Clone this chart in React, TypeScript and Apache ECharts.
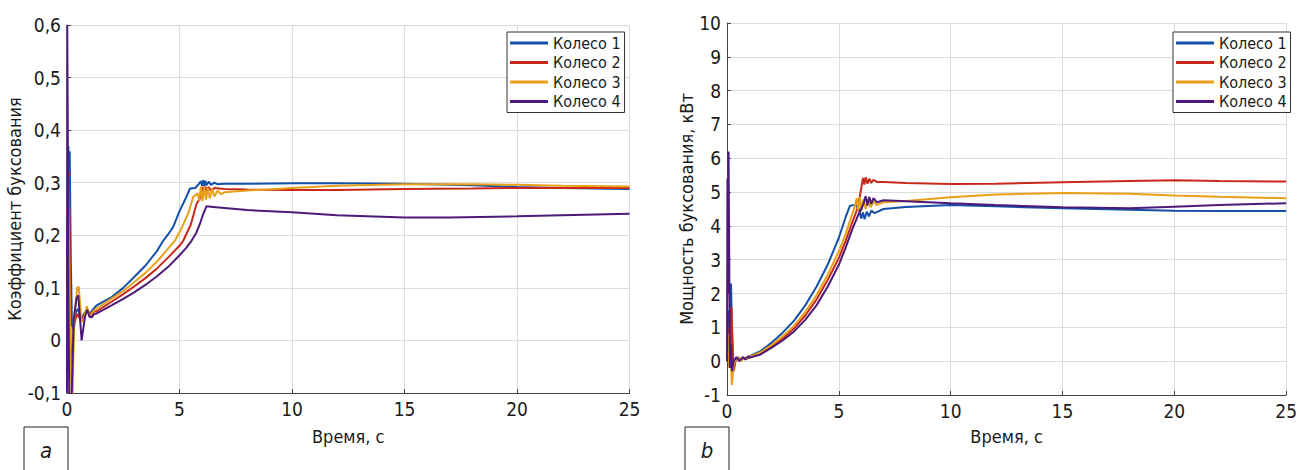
import React, { useEffect, useRef } from "react";
import * as echarts from "echarts";

const NAMES = ["Колесо 1", "Колесо 2", "Колесо 3", "Колесо 4"];
const COLORS = ["#1550a8", "#c8281c", "#e8a018", "#4c1a78"];

// Left chart: slip coefficient vs time [t, value]
const slip1: number[][] = [
  [0, -0.04], [0.02, -0.07], [0.04, 0.1], [0.06, 0.37], [0.09, 0.25], [0.12, 0.36], [0.17, 0.15], [0.22, 0.03],
  [0.3, 0.02], [0.4, 0.055], [0.5, 0.06], [0.62, 0.036], [0.75, 0.05], [0.88, 0.058], [1.0, 0.05], [1.12, 0.057],
  [1.3, 0.066], [2.0, 0.083], [2.5, 0.1], [3.0, 0.121], [3.5, 0.143], [4.0, 0.17], [4.28, 0.19], [4.5, 0.202],
  [4.72, 0.216], [5.0, 0.246], [5.25, 0.268], [5.47, 0.289], [5.7, 0.29], [5.85, 0.297], [5.95, 0.303],
  [6.0, 0.294], [6.05, 0.305], [6.1, 0.294], [6.15, 0.304], [6.2, 0.295], [6.3, 0.302], [6.4, 0.296],
  [6.55, 0.3], [6.7, 0.297], [7, 0.298], [8, 0.298], [10, 0.299], [12, 0.299], [15, 0.298], [18, 0.295],
  [20, 0.292], [22, 0.29], [25, 0.288],
];
const slip2: number[][] = [
  [0, 0.1], [0.04, 0.25], [0.08, 0.32], [0.12, 0.2], [0.16, -0.02], [0.2, -0.06], [0.3, 0.03], [0.45, 0.05],
  [0.6, 0.04], [0.75, 0.045], [0.9, 0.06], [1.05, 0.045], [1.2, 0.055], [1.3, 0.055], [2.0, 0.074],
  [2.5, 0.088], [3.0, 0.103], [3.5, 0.119], [4.0, 0.137], [4.5, 0.158], [5.0, 0.18], [5.17, 0.19],
  [5.5, 0.22], [5.76, 0.26], [5.91, 0.27], [6.0, 0.284], [6.05, 0.292], [6.1, 0.283], [6.15, 0.293],
  [6.2, 0.284], [6.3, 0.292], [6.4, 0.285], [6.55, 0.29], [7, 0.288], [8, 0.287], [10, 0.286], [12, 0.286],
  [15, 0.288], [18, 0.289], [20, 0.29], [25, 0.29],
];
const slip3: number[][] = [
  [0, 0.05], [0.04, 0.3], [0.09, 0.18], [0.14, 0.0], [0.2, -0.1], [0.24, -0.12], [0.32, 0.04], [0.45, 0.1],
  [0.52, 0.102], [0.65, 0.035], [0.75, 0.04], [0.88, 0.065], [1.0, 0.045], [1.15, 0.055], [1.3, 0.06],
  [2.0, 0.08], [2.5, 0.094], [3.0, 0.111], [3.5, 0.129], [4.0, 0.15], [4.5, 0.175], [4.8, 0.19], [5.1, 0.214],
  [5.4, 0.243], [5.61, 0.273], [5.8, 0.28], [5.88, 0.266], [5.95, 0.293], [6.02, 0.265], [6.1, 0.292],
  [6.18, 0.268], [6.26, 0.29], [6.35, 0.27], [6.45, 0.288], [6.55, 0.274], [6.7, 0.285], [6.85, 0.278],
  [7, 0.282], [8, 0.285], [10, 0.29], [12, 0.294], [15, 0.297], [18, 0.297], [20, 0.296], [22, 0.294],
  [25, 0.293],
];
const slip4: number[][] = [
  [0, -0.1], [0.01, 0.6], [0.03, 0.45], [0.06, 0.1], [0.1, -0.1], [0.2, -0.12], [0.3, 0.04], [0.42, 0.08],
  [0.5, 0.086], [0.65, 0.0], [0.8, 0.045], [0.9, 0.058], [1.0, 0.045], [1.1, 0.044], [1.2, 0.05],
  [1.3, 0.051], [2.0, 0.067], [2.5, 0.079], [3.0, 0.092], [3.5, 0.106], [4.0, 0.122], [4.5, 0.14],
  [5.0, 0.162], [5.3, 0.176], [5.54, 0.19], [5.75, 0.205], [5.91, 0.222], [6.05, 0.24], [6.2, 0.255],
  [6.5, 0.254], [7, 0.252], [8, 0.248], [10, 0.244], [12, 0.238], [15, 0.234], [17, 0.234], [20, 0.236],
  [22, 0.238], [25, 0.241],
];

// Right chart: slip power (kW) vs time [t, value]
const power1: number[][] = [
  [0, 0], [0.05, 1.5], [0.1, -0.1], [0.18, 2.3], [0.22, 1.0], [0.27, -0.2], [0.35, 0.02], [0.45, 0.1],
  [0.6, 0.02], [0.75, 0.1], [0.9, 0.08], [1.0, 0.15], [1.5, 0.3], [2.0, 0.55], [2.5, 0.85], [3.0, 1.2],
  [3.5, 1.65], [4.0, 2.2], [4.5, 2.85], [5.0, 3.65], [5.3, 4.25], [5.5, 4.6], [5.75, 4.62], [5.9, 4.5],
  [6.0, 4.22], [6.08, 4.4], [6.15, 4.2], [6.25, 4.42], [6.35, 4.28], [6.45, 4.45], [6.6, 4.38], [7, 4.5],
  [8, 4.56], [10, 4.62], [12, 4.58], [15, 4.52], [18, 4.48], [20, 4.45], [22, 4.44], [25, 4.44],
];
const power2: number[][] = [
  [0, 0], [0.06, 1.0], [0.12, -0.1], [0.2, 1.6], [0.25, 0.5], [0.3, -0.3], [0.38, 0.0], [0.5, 0.12],
  [0.62, 0.02], [0.75, 0.1], [0.9, 0.07], [1.0, 0.12], [1.5, 0.24], [2.0, 0.44], [2.5, 0.68], [3.0, 0.97],
  [3.5, 1.35], [4.0, 1.82], [4.5, 2.4], [5.0, 3.05], [5.3, 3.55], [5.6, 4.1], [5.85, 4.55], [6.0, 5.1],
  [6.08, 5.42], [6.14, 5.22], [6.2, 5.44], [6.28, 5.25], [6.36, 5.4], [6.45, 5.27], [6.55, 5.36],
  [6.7, 5.3], [7, 5.3], [8, 5.27], [10, 5.24], [12, 5.25], [15, 5.29], [18, 5.33], [20, 5.35], [22, 5.33],
  [25, 5.31],
];
const power3: number[][] = [
  [0, 0], [0.05, 0.8], [0.1, -0.2], [0.15, 0.5], [0.22, -0.7], [0.3, -0.1], [0.4, 0.05], [0.5, 0.1],
  [0.62, 0.0], [0.75, 0.1], [0.9, 0.06], [1.0, 0.13], [1.5, 0.26], [2.0, 0.48], [2.5, 0.74], [3.0, 1.05],
  [3.5, 1.45], [4.0, 1.95], [4.5, 2.55], [5.0, 3.25], [5.3, 3.75], [5.5, 4.15], [5.7, 4.55], [5.8, 4.82],
  [5.87, 4.45], [5.94, 4.85], [6.02, 4.45], [6.1, 4.8], [6.2, 4.5], [6.3, 4.78], [6.42, 4.55], [6.55, 4.72],
  [6.7, 4.62], [7, 4.7], [8, 4.74], [10, 4.85], [12, 4.93], [15, 4.97], [18, 4.95], [20, 4.9], [22, 4.86],
  [25, 4.82],
];
const power4: number[][] = [
  [0, 0], [0.02, 5.4], [0.04, 2.0], [0.07, 6.2], [0.1, 3.0], [0.13, -0.2], [0.18, 0.5], [0.22, -0.3],
  [0.3, 0.0], [0.42, 0.12], [0.55, 0.0], [0.7, 0.12], [0.82, 0.05], [0.95, 0.15], [1.0, 0.1], [1.5, 0.2],
  [2.0, 0.4], [2.5, 0.62], [3.0, 0.88], [3.5, 1.22], [4.0, 1.65], [4.5, 2.2], [5.0, 2.85], [5.3, 3.35],
  [5.6, 3.9], [5.85, 4.3], [6.0, 4.5], [6.1, 4.65], [6.2, 4.88], [6.28, 4.6], [6.36, 4.86], [6.45, 4.65],
  [6.55, 4.82], [6.7, 4.7], [7, 4.76], [8, 4.73], [10, 4.67], [12, 4.62], [15, 4.55], [18, 4.52],
  [20, 4.57], [22, 4.62], [25, 4.67],
];

const FONT = "'Liberation Sans Narrow', 'DejaVu Sans Condensed', 'Roboto', sans-serif";

const slipSeries = [slip1, slip2, slip3, slip4];
const powerSeries = [power1, power2, power3, power4];

function fmtComma(v: number) {
  if (Math.abs(v) < 1e-9) return "0";
  return (Math.round(v * 10) / 10).toFixed(1).replace(".", ",");
}

export default function App() {
  const ref = useRef<HTMLDivElement>(null);
  useEffect(() => {
    document.body.style.margin = "0";
    if (!ref.current) return;
    const chart = echarts.init(ref.current, null, { renderer: "svg" });
    const axisCommon = {
      axisLine: { show: true, onZero: false, lineStyle: { color: "#444", width: 1 } },
      axisTick: { show: true, inside: true, length: 4, lineStyle: { color: "#444" } },
      splitLine: { show: true, lineStyle: { color: "#dcdcdc", width: 1 } },
      axisLabel: { color: "#1a1a1a", fontFamily: FONT, fontSize: 19, margin: 6 },
      nameTextStyle: { color: "#1a1a1a", fontFamily: FONT, fontSize: 18 },
    };
    const series: any[] = [];
    slipSeries.forEach((d, i) =>
      series.push({
        name: NAMES[i], type: "line", xAxisIndex: 0, yAxisIndex: 0, data: d, symbol: "none",
        lineStyle: { color: COLORS[i], width: 2 }, itemStyle: { color: COLORS[i] },
      })
    );
    powerSeries.forEach((d, i) =>
      series.push({
        name: NAMES[i], type: "line", xAxisIndex: 1, yAxisIndex: 1, data: d, symbol: "none",
        lineStyle: { color: COLORS[i], width: 2 }, itemStyle: { color: COLORS[i] },
      })
    );
    const legendCommon = {
      orient: "vertical",
      data: NAMES,
      icon: "rect",
      itemWidth: 38,
      itemHeight: 3,
      itemGap: 1.5,
      padding: [2, 4, 2, 3],
      borderColor: "#333",
      borderWidth: 1,
      backgroundColor: "#fff",
      textStyle: { fontFamily: FONT, fontSize: 16, color: "#1a1a1a", lineHeight: 18 },
    };
    chart.setOption({
      animation: false,
      backgroundColor: "#fff",
      grid: [
        { left: 67, top: 25, width: 562.5, height: 368 },
        { left: 727, top: 23, width: 565.5, height: 372 },
      ],
      xAxis: [
        {
          ...axisCommon, gridIndex: 0, type: "value", min: 0, max: 25, interval: 5,
          name: "Время, с", nameLocation: "middle", nameGap: 34,
        },
        {
          ...axisCommon, gridIndex: 1, type: "value", min: 0, max: 25, interval: 5,
          name: "Время, с", nameLocation: "middle", nameGap: 32,
        },
      ],
      yAxis: [
        {
          ...axisCommon, gridIndex: 0, type: "value", min: -0.1, max: 0.6, interval: 0.1,
          axisLabel: { ...axisCommon.axisLabel, formatter: fmtComma },
          name: "Коэффициент буксования", nameLocation: "middle", nameGap: 40,
        },
        {
          ...axisCommon, gridIndex: 1, type: "value", min: -1, max: 10, interval: 1,
          name: "Мощность буксования, кВт", nameLocation: "middle", nameGap: 31,
        },
      ],
      legend: [
        { ...legendCommon, left: 507, top: 32 },
        { ...legendCommon, left: 1173, top: 32 },
      ],
      series,
      graphic: [
        { type: "rect", shape: { x: 24, y: 427, width: 44, height: 50 }, style: { fill: "#fff", stroke: "#222", lineWidth: 1 } },
        { type: "text", x: 46, y: 450, style: { text: "a", fontFamily: FONT, fontSize: 22, fontStyle: "italic", fill: "#1a1a1a", align: "center", verticalAlign: "middle" } },
        { type: "rect", shape: { x: 685, y: 427, width: 44, height: 50 }, style: { fill: "#fff", stroke: "#222", lineWidth: 1 } },
        { type: "text", x: 707, y: 450, style: { text: "b", fontFamily: FONT, fontSize: 22, fontStyle: "italic", fill: "#1a1a1a", align: "center", verticalAlign: "middle" } },
      ],
    });
    return () => chart.dispose();
  }, []);
  return <div ref={ref} style={{ width: 1300, height: 470 }} />;
}
